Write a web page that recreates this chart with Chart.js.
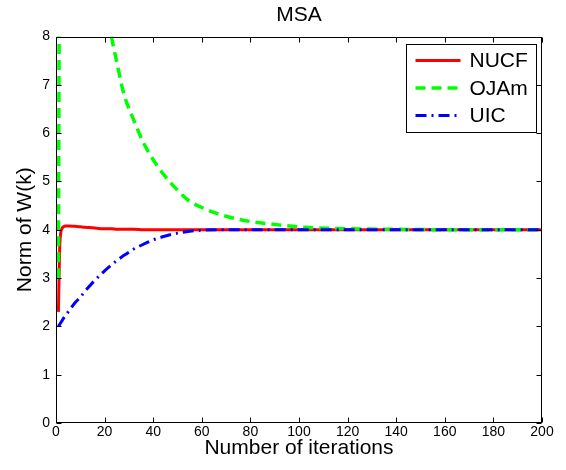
<!DOCTYPE html>
<html>
<head>
<meta charset="utf-8">
<script src="https://cdn.jsdelivr.net/npm/chart.js@4.4.1/dist/chart.umd.min.js"></script>
<style>
html,body{margin:0;padding:0;background:#fff;}
canvas{display:block;}
</style>
</head>
<body>
<canvas id="c" width="566" height="470"></canvas>
<script>
// ---- data ----
const chartTitle = 'MSA';
const xTitle = 'Number of iterations';
const yTitle = 'Norm of W(k)';
const seriesNames = ['NUCF', 'OJAm', 'UIC'];
const xTicks = [0, 20, 40, 60, 80, 100, 120, 140, 160, 180, 200];
const yTicks = [0, 1, 2, 3, 4, 5, 6, 7, 8];

const iterations = [1, 1.5, 2, 2.5, 3, 4, 5, 8, 10, 12, 15, 20, 23, 25, 28, 32, 36, 40, 45, 50, 55, 60, 70, 80, 90, 100, 120, 140, 160, 180, 200];
const nucf = [2.3, 3.6, 3.95, 4.03, 4.06, 4.08, 4.08, 4.07, 4.06, 4.05, 4.04, 4.02, 4.02, 4.01, 4.01, 4.01, 4.0, 4.0, 4.0, 4.0, 4.0, 4.0, 4.0, 4.0, 4.0, 4.0, 4.0, 4.0, 4.0, 4.0, 4.0];
const ojam = [3.0, 12, 20, 23, 24, 24, 21, 17, 15, 13, 11, 8.8, 7.95, 7.47, 6.8, 6.27, 5.8, 5.45, 5.1, 4.82, 4.59, 4.46, 4.28, 4.17, 4.11, 4.06, 4.02, 4.01, 4.0, 4.0, 4.0];
const uic = [2.0, 2.04, 2.08, 2.12, 2.16, 2.23, 2.3, 2.5, 2.6, 2.73, 2.9, 3.15, 3.28, 3.36, 3.47, 3.6, 3.7, 3.79, 3.87, 3.93, 3.97, 3.99, 4.0, 4.0, 4.0, 4.0, 4.0, 4.0, 4.0, 4.0, 4.0];

const FONT = '"Liberation Sans", Arial, Helvetica, sans-serif';

function pts(ys) { return iterations.map((x, i) => ({ x: x, y: ys[i] })); }

const decorPlugin = {
  id: 'decor',
  beforeDraw(chart) {
    const ctx = chart.ctx;
    ctx.save();
    ctx.fillStyle = '#ffffff';
    ctx.fillRect(0, 0, chart.width, chart.height);
    ctx.restore();
  },
  afterDatasetsDraw(chart) {
    const ctx = chart.ctx;
    const a = chart.chartArea;
    const xs = chart.scales.x, ys = chart.scales.y;
    const L = Math.round(a.left) + 0.5, R = Math.round(a.right) - 0.5;
    const T = Math.round(a.top) + 0.5, B = Math.round(a.bottom) - 0.5;
    ctx.save();
    // frame + inward ticks
    ctx.strokeStyle = '#000';
    ctx.lineWidth = 1;
    ctx.setLineDash([]);
    ctx.strokeRect(L, T, R - L, B - T);
    ctx.beginPath();
    xs.ticks.forEach(t => {
      const px = Math.round(xs.getPixelForValue(t.value)) + 0.5;
      ctx.moveTo(px, B); ctx.lineTo(px, B - 5);
      ctx.moveTo(px, T); ctx.lineTo(px, T + 5);
    });
    ys.ticks.forEach(t => {
      const py = Math.round(ys.getPixelForValue(t.value)) + 0.5;
      ctx.moveTo(L, py); ctx.lineTo(L + 5, py);
      ctx.moveTo(R, py); ctx.lineTo(R - 5, py);
    });
    ctx.stroke();

    // legend box inside the plot, top right
    const bw = 130, bh = 88;
    const bx = Math.round(a.right) - 6 - bw + 0.5;
    const by = Math.round(a.top) + 7 + 0.5;
    ctx.fillStyle = '#fff';
    ctx.fillRect(bx, by, bw, bh);
    ctx.strokeRect(bx, by, bw, bh);
    const rowY = [16, 43.5, 71];
    chart.data.datasets.forEach((ds, i) => {
      const yy = by + rowY[i];
      ctx.save();
      ctx.strokeStyle = ds.borderColor;
      ctx.lineWidth = ds.borderWidth;
      ctx.setLineDash(ds.borderDash || []);
      ctx.beginPath();
      ctx.moveTo(bx + 9, yy);
      ctx.lineTo(bx + 54, yy);
      ctx.stroke();
      ctx.restore();
      ctx.fillStyle = '#000';
      ctx.font = '21px ' + FONT;
      ctx.textBaseline = 'middle';
      ctx.textAlign = 'left';
      ctx.fillText(ds.label, bx + 63, yy + 1);
    });
    ctx.restore();
  }
};

new Chart(document.getElementById('c'), {
  type: 'line',
  data: {
    datasets: [
      { label: seriesNames[0], data: pts(nucf), borderColor: '#ff0000', borderWidth: 3, pointRadius: 0, order: 3, cubicInterpolationMode: 'monotone', fill: false },
      { label: seriesNames[1], data: pts(ojam), borderColor: '#00ff00', borderWidth: 3.5, borderDash: [10, 6], pointRadius: 0, order: 2, cubicInterpolationMode: 'monotone', fill: false },
      { label: seriesNames[2], data: pts(uic), borderColor: '#0000ff', borderWidth: 3, borderDash: [11, 5, 2, 5], pointRadius: 0, order: 1, cubicInterpolationMode: 'monotone', fill: false }
    ]
  },
  options: {
    responsive: false,
    animation: false,
    devicePixelRatio: 1,
    layout: { padding: { left: 0, right: 24, top: 0, bottom: 0 } },
    plugins: {
      legend: { display: false },
      tooltip: { enabled: false },
      title: {
        display: true, text: chartTitle, fullSize: false, color: '#000',
        font: { family: FONT, size: 21, weight: 'normal' },
        padding: { top: 3, bottom: 8.3 }
      }
    },
    scales: {
      x: {
        type: 'linear', min: 0, max: 200,
        afterBuildTicks: s => { s.ticks = xTicks.map(v => ({ value: v })); },
        afterFit: s => { s.height = 47; },
        ticks: { color: '#000', font: { family: FONT, size: 14 }, padding: 1, maxRotation: 0, autoSkip: false },
        grid: { display: false, drawTicks: false },
        border: { display: false },
        title: { display: true, text: xTitle, color: '#000', font: { family: FONT, size: 21 }, padding: { top: 0, bottom: 9 } }
      },
      y: {
        type: 'linear', min: 0, max: 8,
        afterBuildTicks: s => { s.ticks = yTicks.map(v => ({ value: v })); },
        afterFit: s => { s.width = 56; },
        ticks: { color: '#000', font: { family: FONT, size: 14 }, padding: 6, autoSkip: false },
        grid: { display: false, drawTicks: false },
        border: { display: false },
        title: { display: true, text: yTitle, color: '#000', font: { family: FONT, size: 21 }, padding: { top: 12.4, bottom: 0 } }
      }
    }
  },
  plugins: [decorPlugin]
});
</script>
</body>
</html>
